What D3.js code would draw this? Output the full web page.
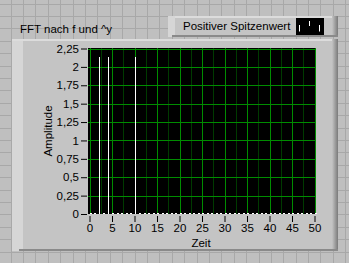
<!DOCTYPE html>
<html><head><meta charset="utf-8">
<script src="https://cdn.jsdelivr.net/npm/d3@7"></script>
<style>body{margin:0;background:#bdbdbd;overflow:hidden}svg{display:block}text{font-family:"Liberation Sans",Arial,sans-serif}</style>
</head><body>
<script>
const title = "FFT nach f und ^y";
const legendLabel = "Positiver Spitzenwert";
const xLabel = "Zeit";
const yLabel = "Amplitude";
const freq = [0,1,2,3,4,5,6,7,8,9,10,11,12,13,14,15,16,17,18,19,20,21,22,23,24,25,26,27,28,29,30,31,32,33,34,35,36,37,38,39,40,41,42,43,44,45,46,47,48,49,50];
const amplitude = [0,0,2.13,0,2.13,0,0,0,0,0,2.13,0,0,0,0,0,0,0,0,0,0,0,0,0,0,0,0,0,0,0,0,0,0,0,0,0,0,0,0,0,0,0,0,0,0,0,0,0,0,0,0];
const xTicks = [0,5,10,15,20,25,30,35,40,45,50];
const yTicks = [0,0.25,0.5,0.75,1,1.25,1.5,1.75,2,2.25];
const xMinor = [2.5,7.5,12.5,17.5,22.5,27.5,32.5,37.5,42.5,47.5];

const W=349,H=263;
const svg=d3.select("body").append("svg").attr("width",W).attr("height",H);
svg.append("rect").attr("width",W).attr("height",H).attr("fill","#bfbfbf");
const gs=12.4;
for(let x=10.5;x<W;x+=gs) svg.append("line").attr("x1",Math.round(x)+0.5).attr("x2",Math.round(x)+0.5).attr("y1",0).attr("y2",H).attr("stroke","#a8a8a8");
for(let y=3.5;y<H;y+=gs) svg.append("line").attr("y1",Math.round(y)+0.5).attr("y2",Math.round(y)+0.5).attr("x1",0).attr("x2",W).attr("stroke","#a8a8a8");

const defs=svg.append("defs");
const gr=defs.append("linearGradient").attr("id","rgrad").attr("x1",0).attr("x2",1);
gr.append("stop").attr("offset",0).attr("stop-color","#c4c4c4");
gr.append("stop").attr("offset",1).attr("stop-color","#7a7a7a");
svg.append("rect").attr("x",12).attr("y",39).attr("width",326).attr("height",212).attr("fill","#c4c4c4");
svg.append("rect").attr("x",12).attr("y",39).attr("width",11).attr("height",212).attr("fill","#d6d6d6");
svg.append("rect").attr("x",12).attr("y",39).attr("width",326).attr("height",2).attr("fill","#dcdcdc");
svg.append("rect").attr("x",332).attr("y",39).attr("width",6).attr("height",212).attr("fill","url(#rgrad)");
svg.append("rect").attr("x",19).attr("y",249).attr("width",319).attr("height",2).attr("fill","#8a8a8a");

svg.append("rect").attr("x",168).attr("y",16).attr("width",170).attr("height",21).attr("fill","#c4c4c4");
svg.append("rect").attr("x",168).attr("y",16).attr("width",170).attr("height",2).attr("fill","#dcdcdc");
svg.append("rect").attr("x",168).attr("y",16).attr("width",7).attr("height",21).attr("fill","#d6d6d6");
svg.append("rect").attr("x",332).attr("y",16).attr("width",6).attr("height",21).attr("fill","url(#rgrad)");
svg.append("rect").attr("x",172).attr("y",35).attr("width",166).attr("height",2).attr("fill","#8a8a8a");
svg.append("text").attr("x",183).attr("y",30).attr("font-size",11.5).attr("fill","#000").text(legendLabel);
svg.append("rect").attr("x",296).attr("y",18).attr("width",28).attr("height",17).attr("fill","#000");
[[299,25,31.5],[309,21,26],[319,25,31.5]].forEach(d=>svg.append("line").attr("x1",d[0]+0.5).attr("x2",d[0]+0.5).attr("y1",d[1]).attr("y2",d[2]).attr("stroke","#fff"));

svg.append("text").attr("x",20).attr("y",33).attr("font-size",11.5).attr("fill","#000").text(title);

const x=d3.scaleLinear().domain([0,50]).range([89.5,314.5]);
const y=d3.scaleLinear().domain([0,2.25]).range([214,48.5]);
svg.append("rect").attr("x",88).attr("y",48).attr("width",227).attr("height",166).attr("fill","#000");
const grid=svg.append("g");
xMinor.forEach(v=>grid.append("line").attr("x1",Math.round(x(v))+0.5).attr("x2",Math.round(x(v))+0.5).attr("y1",48).attr("y2",214).attr("stroke","#003a00"));
yTicks.filter(v=>v>0).forEach(v=>grid.append("line").attr("y1",Math.round(y(v))+0.5).attr("y2",Math.round(y(v))+0.5).attr("x1",88).attr("x2",315).attr("stroke","#008c00"));
xTicks.forEach(v=>grid.append("line").attr("x1",Math.round(x(v))+0.5).attr("x2",Math.round(x(v))+0.5).attr("y1",48).attr("y2",214).attr("stroke","#008c00"));

const data=freq.map((f,i)=>({f,a:amplitude[i]}));
svg.append("g").selectAll("line").data(data.filter(d=>d.a>0)).join("line")
 .attr("x1",d=>Math.round(x(d.f))+0.5).attr("x2",d=>Math.round(x(d.f))+0.5)
 .attr("y1",d=>Math.round(y(d.a))).attr("y2",y(0)).attr("stroke","#fff").attr("stroke-width",1);
svg.append("g").selectAll("rect").data(data.filter(d=>d.a===0)).join("rect")
 .attr("x",d=>Math.round(x(d.f))).attr("y",213).attr("width",2).attr("height",1).attr("fill","#fff");

const xa=svg.append("g").attr("transform","translate(0,215)").call(d3.axisBottom(x).tickValues(xTicks).tickSize(6).tickPadding(3).tickFormat(d3.format("d")));
const ya=svg.append("g").attr("transform","translate(87,0)").call(d3.axisLeft(y).tickValues(yTicks).tickSize(6).tickPadding(2).tickFormat(d=>String(d).replace(".",",")));
[xa,ya].forEach(a=>{a.select(".domain").remove();a.selectAll("text").attr("font-family","Liberation Sans, Arial, sans-serif").attr("font-size",11.5).attr("fill","#000");a.selectAll("line").attr("stroke","#000");});
xa.selectAll(".tick line").attr("transform","translate(0,1)");

svg.append("text").attr("x",201).attr("y",247).attr("text-anchor","middle").attr("font-size",11.5).text(xLabel);
svg.append("text").attr("transform","translate(52,131) rotate(-90)").attr("text-anchor","middle").attr("font-size",11.5).text(yLabel);
</script>
</body></html>
